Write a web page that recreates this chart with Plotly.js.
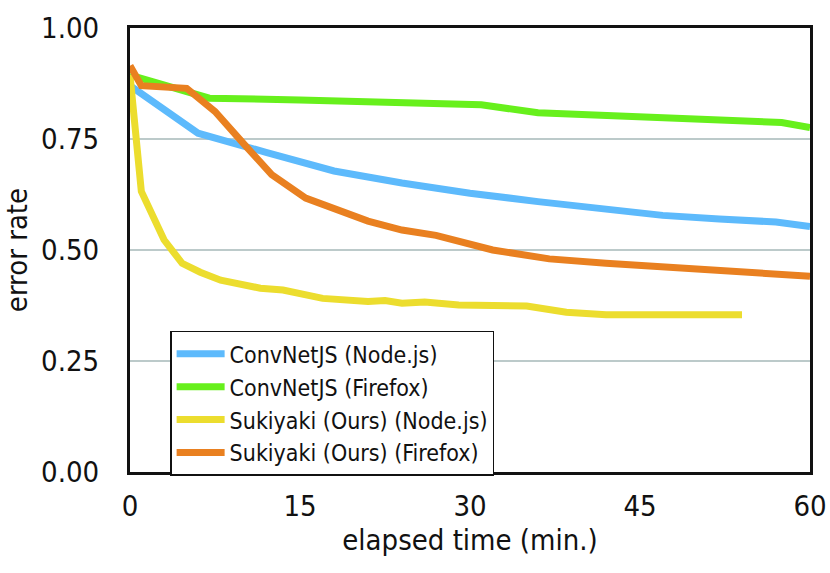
<!DOCTYPE html>
<html>
<head>
<meta charset="utf-8">
<script src="https://cdn.plot.ly/plotly-3.0.1.min.js"></script>
<style>
  html, body { margin: 0; padding: 0; background: #fff; }
  #chart { width: 830px; height: 573px; }
</style>
</head>
<body>
<div id="chart"></div>
<script>
// elapsed time (min.) / error rate
const convNodeX = [0, 6, 12, 18, 24, 30, 36, 42, 47, 52, 57, 60];
const convNodeY = [0.87, 0.763, 0.72, 0.678, 0.651, 0.628, 0.609, 0.592, 0.578, 0.570, 0.563, 0.553];

const convFoxX = [0, 5, 7, 15, 24, 31, 36, 45, 55, 57.5, 60];
const convFoxY = [0.894, 0.855, 0.842, 0.838, 0.831, 0.827, 0.809, 0.800, 0.792, 0.787, 0.776];

const sukiNodeX = [0, 1, 3, 4.6, 6.2, 8, 11.5, 13.5, 17, 21, 22.5, 24, 26, 29, 35, 38.5, 42, 54];
const sukiNodeY = [0.894, 0.632, 0.523, 0.47, 0.45, 0.432, 0.414, 0.41, 0.391, 0.384, 0.386, 0.38, 0.383, 0.376, 0.374, 0.36, 0.354, 0.354];

const sukiFoxX = [0, 1, 5, 7.5, 10, 12.5, 15.5, 18, 21, 24, 27, 32, 37, 42, 47, 53, 60];
const sukiFoxY = [0.915, 0.87, 0.864, 0.812, 0.74, 0.67, 0.617, 0.595, 0.565, 0.545, 0.533, 0.5, 0.48, 0.47, 0.462, 0.451, 0.441];

const xTicks = [0, 15, 30, 45, 60];
const yTicks = [0, 0.25, 0.5, 0.75, 1.0];

const FONT = '"DejaVu Sans Condensed", "Liberation Sans Narrow", "Liberation Sans", sans-serif';

function line(name, x, y, color) {
  return {
    type: 'scatter',
    mode: 'lines',
    name: name,
    x: x,
    y: y,
    line: { color: color, width: 7 },
  };
}

const traces = [
  line('ConvNetJS (Node.js)', convNodeX, convNodeY, '#5dbafc'),
  line('ConvNetJS (Firefox)', convFoxX, convFoxY, '#67f01c'),
  line('Sukiyaki (Ours) (Node.js)', sukiNodeX, sukiNodeY, '#ecdd2e'),
  line('Sukiyaki (Ours) (Firefox)', sukiFoxX, sukiFoxY, '#e98020'),
];

const layout = {
  width: 830,
  height: 573,
  margin: { l: 130, r: 20, t: 28, b: 101 },
  paper_bgcolor: '#fff',
  plot_bgcolor: '#fff',
  font: { family: FONT, size: 29, color: '#111' },
  showlegend: true,
  legend: {
    x: 0.059,
    y: 0.318,
    xanchor: 'left',
    yanchor: 'top',
    bgcolor: '#fff',
    bordercolor: '#111',
    borderwidth: 1.5,
    itemwidth: 48,
    font: { family: FONT, size: 23, color: '#111' },
    traceorder: 'normal',
  },
  xaxis: {
    range: [0, 60],
    tickvals: xTicks,
    ticktext: xTicks.map(String),
    showgrid: false,
    zeroline: false,
    showline: true,
    linecolor: '#111',
    linewidth: 3,
    mirror: true,
    ticks: '',
    ticklabelstandoff: 6,
    title: { text: 'elapsed time (min.)', font: { family: FONT, size: 29 }, standoff: 4 },
  },
  yaxis: {
    range: [0, 1],
    tickvals: yTicks,
    ticktext: yTicks.map((v) => v.toFixed(2)),
    showgrid: true,
    gridcolor: '#bccaca',
    gridwidth: 1.5,
    zeroline: false,
    showline: true,
    linecolor: '#111',
    linewidth: 3,
    mirror: true,
    ticks: '',
    ticklabelstandoff: 22,
    title: { text: 'error rate', font: { family: FONT, size: 29 }, standoff: 10 },
  },
};

Plotly.newPlot('chart', traces, layout, { displayModeBar: false, staticPlot: true });
</script>
</body>
</html>
